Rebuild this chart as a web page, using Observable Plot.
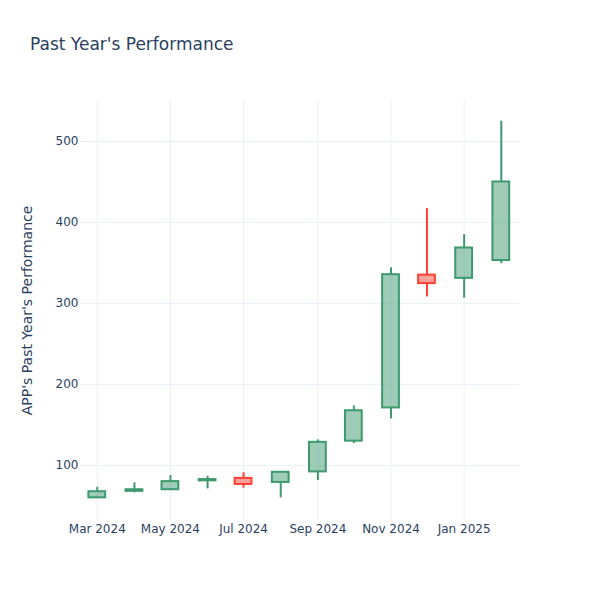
<!DOCTYPE html>
<html>
<head>
<meta charset="utf-8">
<script src="https://cdn.jsdelivr.net/npm/d3@7"></script>
<script src="https://cdn.jsdelivr.net/npm/@observablehq/plot@0.6"></script>
<style>
  html, body { margin: 0; padding: 0; background: #fff; }
  #wrap { position: relative; width: 600px; height: 600px; font-family: "DejaVu Sans", sans-serif; }
  #title { position: absolute; left: 30px; top: 36px; font-size: 17px; line-height: 17px; color: #2a3f5f; white-space: nowrap; }
  #chart { position: absolute; left: 0; top: 0; }
</style>
</head>
<body>
<div id="wrap">
  <div id="chart"></div>
  <div id="title">Past Year's Performance</div>
</div>
<script>
const titleText = "Past Year's Performance";
const yLabel = "APP's Past Year's Performance";
const dates = ["2024-03-01","2024-04-01","2024-05-01","2024-06-01","2024-07-01","2024-08-01","2024-09-01","2024-10-01","2024-11-01","2024-12-01","2025-01-01","2025-02-01"];
const open  = [60, 68, 70, 81, 84, 79, 92, 130, 171, 335, 331, 353];
const high  = [73, 78.5, 87.5, 86.5, 91, 92, 131.5, 173.5, 344, 417, 385, 525];
const low   = [60, 66, 70, 71, 72, 60, 81.5, 127, 157.5, 308, 306.5, 349];
const close = [67.5, 70, 80, 82.5, 76.5, 91.5, 128.5, 167.5, 335.5, 324.5, 368.5, 450];
const yTicks = [100, 200, 300, 400, 500];
const xTicks = ["2024-03-01","2024-05-01","2024-07-01","2024-09-01","2024-11-01","2025-01-01"];

const parse = d3.utcParse("%Y-%m-%d");
const data = dates.map((d, i) => ({
  date: parse(d), open: open[i], high: high[i], low: low[i], close: close[i]
}));
const UP = "#3D9970", DOWN = "#FF4136";
const col = d => d.close >= d.open ? UP : DOWN;
const xTickDates = xTicks.map(parse);

const chart = Plot.plot({
  width: 600,
  height: 600,
  marginLeft: 80,
  marginRight: 80,
  marginTop: 100,
  marginBottom: 80,
  style: { fontFamily: "DejaVu Sans, sans-serif", fontSize: "12px", color: "#2a3f5f", background: "#fff" },
  x: { type: "utc", domain: [parse("2024-02-16"), parse("2025-02-17")] },
  y: { domain: [32, 550.6] },
  marks: [
    Plot.gridY(yTicks, { stroke: "#ebf0f8", strokeOpacity: 1, strokeWidth: 1 }),
    Plot.gridX(xTickDates, { stroke: "#ebf0f8", strokeOpacity: 1, strokeWidth: 1 }),
    Plot.axisY(yTicks, { tickSize: 0, tickPadding: 2, fill: "#2a3f5f", fontSize: 12, label: null }),
    Plot.axisX(xTickDates, { tickSize: 0, tickPadding: 4, fill: "#2a3f5f", fontSize: 12, label: null, tickFormat: d3.utcFormat("%b %Y") }),
    Plot.ruleX(data, { x: "date", y1: "high", y2: d => Math.max(d.open, d.close), stroke: col, strokeWidth: 2 }),
    Plot.ruleX(data, { x: "date", y1: "low", y2: d => Math.min(d.open, d.close), stroke: col, strokeWidth: 2 }),
    Plot.rect(data, {
      x1: d => d3.utcDay.offset(d.date, -7),
      x2: d => d3.utcDay.offset(d.date, 7),
      y1: "open", y2: "close",
      fill: col, fillOpacity: 0.5, stroke: col, strokeWidth: 2
    }),
    Plot.text([yLabel], { frameAnchor: "left", textAnchor: "middle", dx: -53, rotate: -90, fontSize: 14, fill: "#2a3f5f" })
  ]
});
document.getElementById("chart").appendChild(chart);
</script>
</body>
</html>
